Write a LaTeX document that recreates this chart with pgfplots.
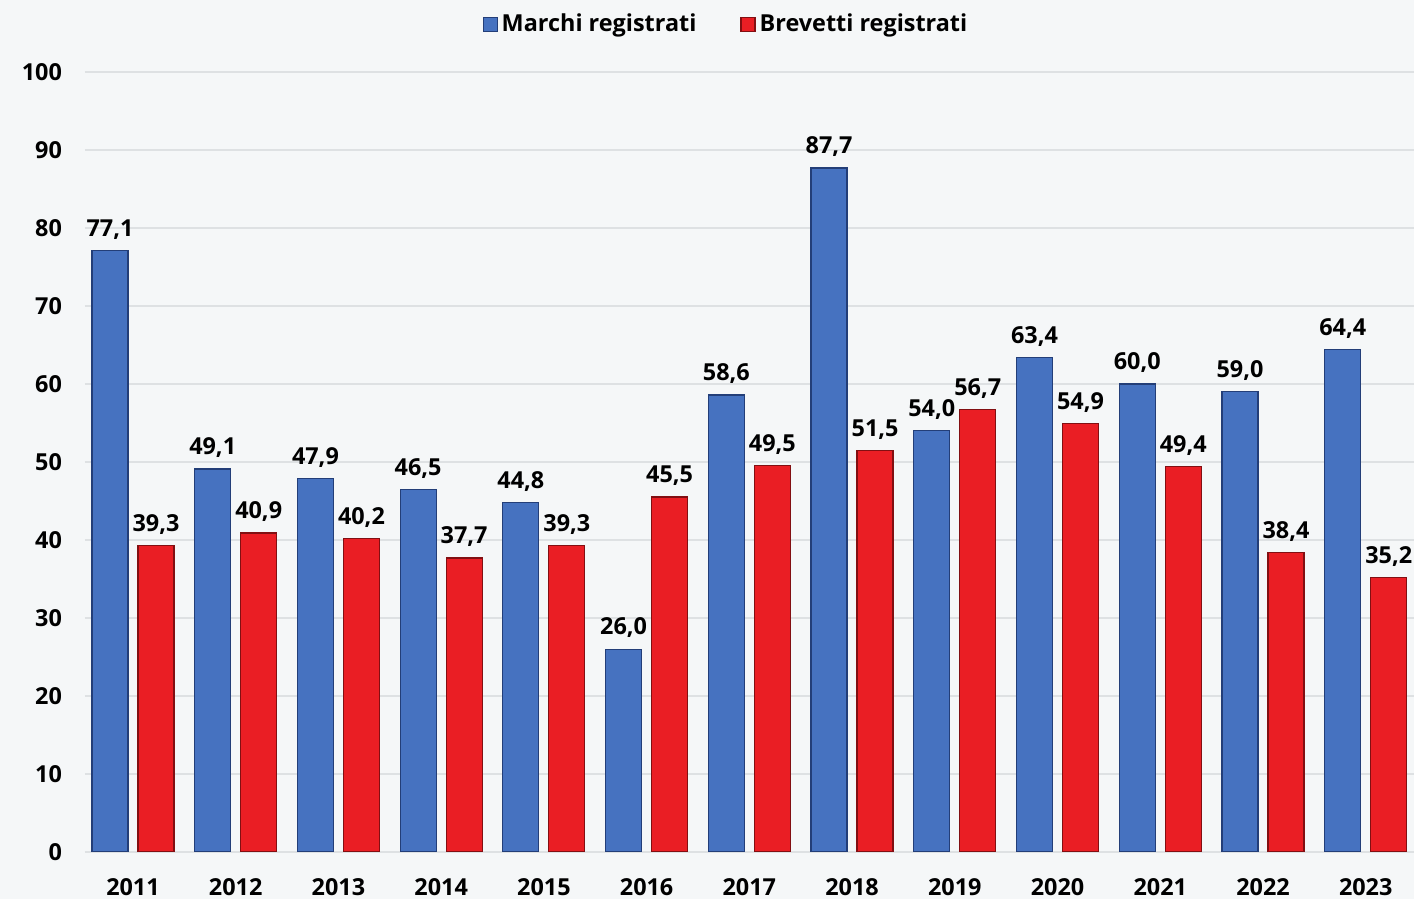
\documentclass[border=0pt]{standalone}
\usepackage{fontspec}
\setmainfont{Open Sans}
\usepackage{pgfplots}
\pgfplotsset{compat=1.18}
\definecolor{bg}{RGB}{245,247,248}
\definecolor{gridc}{RGB}{222,225,227}
\definecolor{bluebar}{RGB}{70,114,192}
\definecolor{bluedark}{RGB}{35,62,120}
\definecolor{redbar}{RGB}{234,30,36}
\definecolor{reddark}{RGB}{130,15,18}
\newcommand{\lf}{\bfseries\fontsize{11.7}{13}\selectfont}
\begin{document}
\begin{tikzpicture}
\path[use as bounding box] (-42.5pt,-23.5pt) rectangle (664.5pt,426pt);
\fill[bg] (-42.5pt,-23.5pt) rectangle (664.5pt,426pt);
\clip (-42.5pt,-23.5pt) rectangle (664.5pt,426pt);
\begin{axis}[
  at={(0,0)}, anchor=south west,
  scale only axis,
  width=664.5pt, height=390pt,
  ybar=5pt, bar width=18pt,
  xmin=-0.467, xmax=12.47,
  ymin=0, ymax=100,
  ytick={0,10,...,100},
  xtick={0,...,12},
  xticklabels={2011,2012,2013,2014,2015,2016,2017,2018,2019,2020,2021,2022,2023},
  axis line style={draw=none},
  major tick length=0pt,
  ymajorgrids,
  grid style={gridc, line width=0.9pt},
  /pgf/number format/assume math mode=true,
  tick label style={font=\lf, black},
  yticklabel style={xshift=-8pt},
  xticklabel style={yshift=-9.5pt},
  nodes near coords={\pgfmathprintnumber[fixed,fixed zerofill,precision=1,use comma]{\pgfplotspointmeta}},
  nodes near coords style={font=\lf, black, yshift=2pt},
  legend style={at={(0.483,1)}, anchor=south, yshift=14.5pt, draw=none, fill=none,
    font=\lf, legend columns=2, /tikz/every even column/.append style={column sep=20pt}},
  legend image code/.code={\fill[#1] (0pt,-3.5pt) rectangle (7pt,3.5pt);},
]
\addplot[fill=bluebar, draw=bluedark, line width=0.6pt] coordinates {
(0,77.1) (1,49.1) (2,47.9) (3,46.5) (4,44.8) (5,26.0) (6,58.6) (7,87.7) (8,54.0) (9,63.4) (10,60.0) (11,59.0) (12,64.4)};
\addlegendentry{Marchi registrati}
\addplot[fill=redbar, draw=reddark, line width=0.6pt] coordinates {
(0,39.3) (1,40.9) (2,40.2) (3,37.7) (4,39.3) (5,45.5) (6,49.5) (7,51.5) (8,56.7) (9,54.9) (10,49.4) (11,38.4) (12,35.2)};
\addlegendentry{Brevetti registrati}
\end{axis}
\end{tikzpicture}
\end{document}
